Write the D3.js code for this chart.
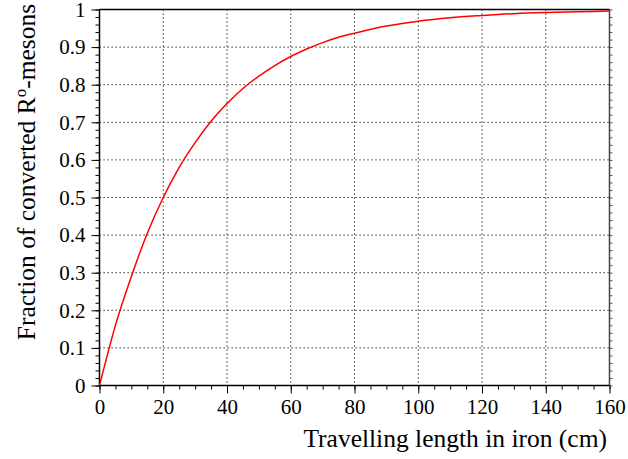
<!DOCTYPE html>
<html><head><meta charset="utf-8">
<script src="https://cdn.jsdelivr.net/npm/d3@7"></script>
<style>body{margin:0;background:#fff}svg{display:block}text{font-family:"Liberation Serif","Times New Roman",serif;fill:#000}</style>
</head><body><svg id="c" width="628" height="459"></svg>
<script>
const lengthCm = [0,5,10,15,20,25,30,35,40,45,50,55,60,65,70,75,80,90,100,110,120,130,140,150,160];
const fraction = [0,0.16,0.29,0.405,0.50,0.58,0.646,0.703,0.75,0.79,0.823,0.851,0.875,0.895,0.912,0.926,0.937,0.956,0.969,0.978,0.984,0.989,0.992,0.994,0.996];
const xTicks = [0,20,40,60,80,100,120,140,160];
const yTicks = [0,0.1,0.2,0.3,0.4,0.5,0.6,0.7,0.8,0.9,1];
const xTitle = "Travelling length in iron (cm)";

const FONT = '"Liberation Serif","Times New Roman",serif';
const svg = d3.select("#c");
const L=99.5,R=609.5,T=9.5,B=385.5;
const x = d3.scaleLinear().domain([0,160]).range([L,R]);
const y = d3.scaleLinear().domain([0,1]).range([B,T]);

// grid
const g = svg.append("g");
g.selectAll("line.gx").data(xTicks.filter(d=>d>0&&d<160)).join("line")
 .attr("x1",d=>x(d)).attr("x2",d=>x(d)).attr("y1",T).attr("y2",B)
 .attr("stroke","#000").attr("stroke-width",1).attr("stroke-dasharray","1.2,2.8");
g.selectAll("line.gy").data(yTicks.filter(d=>d>0&&d<1)).join("line")
 .attr("x1",L).attr("x2",R).attr("y1",d=>y(d)).attr("y2",d=>y(d))
 .attr("stroke","#000").attr("stroke-width",1).attr("stroke-dasharray","1.2,2.8");

// axes
const xAxis = d3.axisBottom(x).tickValues(xTicks).tickSize(8).tickPadding(6).tickFormat(d3.format("d"));
const xMinor = d3.axisBottom(x).tickValues(d3.range(0,161,5)).tickSize(4).tickFormat("");
const yAxis = d3.axisLeft(y).tickValues(yTicks).tickSize(8).tickPadding(6).tickFormat(d=>d===0?"0":d===1?"1":d3.format(".1f")(d));
const yMinor = d3.axisLeft(y).tickValues(d3.range(0,51).map(i=>i/50)).tickSize(4).tickFormat("");
const yRight = d3.axisRight(y).tickValues(d3.range(0,51).map(i=>i/50)).tickSize(3).tickFormat("");

function style(sel){sel.attr("font-family",FONT).attr("font-size",21);sel.select(".domain").remove();sel.selectAll("line").attr("stroke","#000");sel.selectAll("text").style("font-family",FONT).style("font-size","21px").attr("fill","#000");}
svg.append("g").attr("transform",`translate(0,${B})`).call(xMinor).call(style);
svg.append("g").attr("transform",`translate(0,${B})`).call(xAxis).call(style);
svg.append("g").attr("transform",`translate(${L},0)`).call(yMinor).call(style);
svg.append("g").attr("transform",`translate(${L},0)`).call(yAxis).call(style);
svg.append("g").attr("transform",`translate(${R},0)`).call(yRight).call(s=>{s.select(".domain").remove();s.selectAll("line").attr("stroke","#555");});

// frame
svg.append("line").attr("x1",L).attr("x2",R).attr("y1",T).attr("y2",T).attr("stroke","#000").attr("stroke-width",1.5);
svg.append("line").attr("x1",R).attr("x2",R).attr("y1",T).attr("y2",B).attr("stroke","#444").attr("stroke-width",1.5);
svg.append("line").attr("x1",L).attr("x2",L).attr("y1",T).attr("y2",B+1).attr("stroke","#000").attr("stroke-width",1.5);
svg.append("line").attr("x1",L).attr("x2",R).attr("y1",B).attr("y2",B).attr("stroke","#000").attr("stroke-width",1.5);

// curve
const line = d3.line().x((d,i)=>x(lengthCm[i])).y(d=>y(d)).curve(d3.curveMonotoneX);
svg.append("path").datum(fraction).attr("d",line).attr("fill","none").attr("stroke","#ff0000").attr("stroke-width",1.5);

// titles
svg.append("text").attr("x",607).attr("y",447).attr("text-anchor","end").style("font-family",FONT).style("font-size","25.5px").text(xTitle);
const yt = svg.append("text").attr("transform","translate(35,172) rotate(-90)").attr("text-anchor","middle").style("font-family",FONT).style("font-size","25.5px");
yt.append("tspan").text("Fraction of converted R");
yt.append("tspan").attr("dy",-9).style("font-size","17px").text("o");
yt.append("tspan").attr("dy",9).text("-mesons");
</script></body></html>
